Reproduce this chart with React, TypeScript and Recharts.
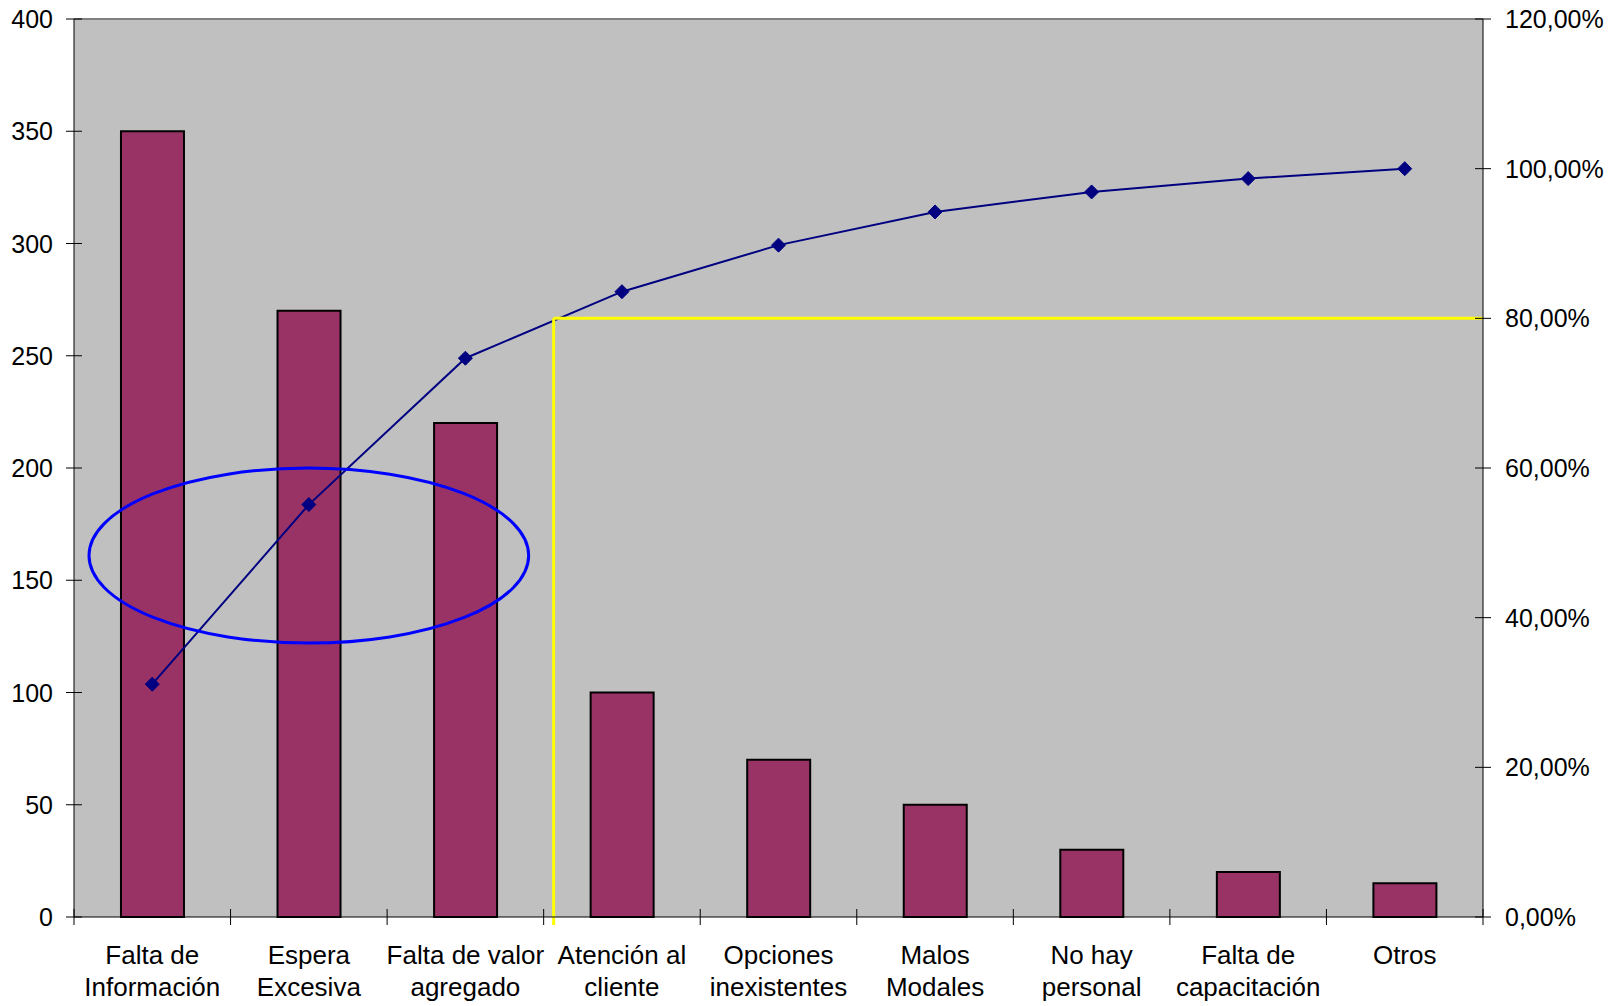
import {
  ComposedChart,
  Bar,
  Line,
  XAxis,
  YAxis,
  CartesianGrid,
  ReferenceLine,
} from "recharts";

const categories = [
  "Falta de\nInformación",
  "Espera\nExcesiva",
  "Falta de valor\nagregado",
  "Atención al\ncliente",
  "Opciones\ninexistentes",
  "Malos\nModales",
  "No hay\npersonal",
  "Falta de\ncapacitación",
  "Otros",
];
const frequencies = [350, 270, 220, 100, 70, 50, 30, 20, 15];
const cumulativePct = [31.11, 55.11, 74.67, 83.56, 89.78, 94.22, 96.89, 98.67, 100];
const leftTicks = [0, 50, 100, 150, 200, 250, 300, 350, 400];
const rightTicks = [0, 20, 40, 60, 80, 100, 120];

const data = categories.map((name, i) => ({
  name,
  freq: frequencies[i],
  cum: cumulativePct[i],
}));

const W = 1618;
const H = 1006;
const PLOT = { left: 74, top: 19, right: 1483, bottom: 917 };
const BAND = (PLOT.right - PLOT.left) / categories.length;
const FONT = '"Liberation Sans", Arial, sans-serif';

const XTick = (props: any) => {
  const { x, payload } = props;
  const lines = String(payload.value).split("\n");
  const half = BAND / 2;
  const isLast = payload.value === categories[categories.length - 1];
  return (
    <g>
      <line x1={x - half} x2={x - half} y1={PLOT.bottom - 8} y2={PLOT.bottom + 8} stroke="#000" />
      {isLast && (
        <line x1={x + half} x2={x + half} y1={PLOT.bottom - 8} y2={PLOT.bottom + 8} stroke="#000" />
      )}
      <text x={x} y={PLOT.bottom + 47} textAnchor="middle" fontSize={26} fontFamily={FONT} fill="#000">
        {lines.map((l, i) => (
          <tspan key={i} x={x} dy={i === 0 ? 0 : 32}>
            {l}
          </tspan>
        ))}
      </text>
    </g>
  );
};

const LeftTick = (props: any) => {
  const { y, payload } = props;
  return (
    <g>
      <line x1={PLOT.left - 8} x2={PLOT.left + 8} y1={y} y2={y} stroke="#000" />
      <text x={PLOT.left - 21} y={y} dy="0.36em" textAnchor="end" fontSize={25} fontFamily={FONT} fill="#000">
        {payload.value}
      </text>
    </g>
  );
};

const RightTick = (props: any) => {
  const { y, payload } = props;
  const label = `${Number(payload.value).toFixed(2).replace(".", ",")}%`;
  return (
    <g>
      <line x1={PLOT.right - 8} x2={PLOT.right + 8} y1={y} y2={y} stroke="#000" />
      <text x={PLOT.right + 22} y={y} dy="0.36em" textAnchor="start" fontSize={25} fontFamily={FONT} fill="#000">
        {label}
      </text>
    </g>
  );
};

const Diamond = (p: any) => {
  const { cx, cy } = p;
  const s = 7;
  return (
    <path
      d={`M${cx},${cy - s}L${cx + s},${cy}L${cx},${cy + s}L${cx - s},${cy}Z`}
      fill="#000080"
      stroke="#000080"
    />
  );
};

// yellow 80% cut-off lines sit a few px right of the category boundary
const YELLOW_SHIFT = 10;

const App = () => {
  return (
    <div
      style={{
        position: "absolute",
        left: 0,
        top: 0,
        width: W,
        height: H,
        background: "#fff",
        fontFamily: FONT,
      }}
    >
      <ComposedChart
        width={W}
        height={H}
        data={data}
        margin={{ top: PLOT.top, right: 35, bottom: 29, left: 14 }}
        barCategoryGap="30%"
      >
        <CartesianGrid
          fill="#C0C0C0"
          vertical={false}
          horizontalPoints={[PLOT.top]}
          stroke="#808080"
          strokeWidth={2}
        />
        <XAxis
          dataKey="name"
          height={60}
          interval={0}
          tickLine={false}
          axisLine={{ stroke: "#000" }}
          tick={<XTick />}
        />
        <YAxis
          yAxisId="left"
          width={60}
          domain={[0, 400]}
          ticks={leftTicks}
          interval={0}
          tickLine={false}
          axisLine={{ stroke: "#000" }}
          tick={<LeftTick />}
        />
        <YAxis
          yAxisId="right"
          orientation="right"
          width={100}
          domain={[0, 120]}
          ticks={rightTicks}
          interval={0}
          tickLine={false}
          axisLine={{ stroke: "#000" }}
          tick={<RightTick />}
        />
        <Bar
          yAxisId="left"
          dataKey="freq"
          fill="#993366"
          stroke="#000"
          strokeWidth={2}
          isAnimationActive={false}
        />
        <Line
          yAxisId="right"
          dataKey="cum"
          type="linear"
          stroke="#000080"
          strokeWidth={2}
          dot={<Diamond />}
          activeDot={false}
          isAnimationActive={false}
        />
        <ReferenceLine
          yAxisId="right"
          position="end"
          ifOverflow="visible"
          segment={[
            { x: categories[2], y: 80 },
            { x: categories[8], y: 80 },
          ]}
          shape={(p: any) => (
            <line x1={p.x1 + YELLOW_SHIFT} y1={p.y1} x2={p.x2} y2={p.y2} stroke="#FFFF00" strokeWidth={3} />
          )}
        />
        <ReferenceLine
          yAxisId="right"
          position="end"
          ifOverflow="visible"
          segment={[
            { x: categories[2], y: 80 },
            { x: categories[2], y: 0 },
          ]}
          shape={(p: any) => (
            <line
              x1={p.x1 + YELLOW_SHIFT}
              y1={p.y1}
              x2={p.x2 + YELLOW_SHIFT}
              y2={p.y2 + 8}
              stroke="#FFFF00"
              strokeWidth={3}
            />
          )}
        />
        {/* highlight ellipse around the first three causes, spans 122..200 on the left axis */}
        <ReferenceLine
          yAxisId="left"
          position="middle"
          ifOverflow="visible"
          segment={[
            { x: categories[1], y: 200 },
            { x: categories[1], y: 122 },
          ]}
          shape={(p: any) => (
            <ellipse
              cx={p.x1}
              cy={(p.y1 + p.y2) / 2}
              rx={BAND * 1.5 - 15}
              ry={Math.abs(p.y2 - p.y1) / 2}
              fill="none"
              stroke="#0000FF"
              strokeWidth={3}
            />
          )}
        />
      </ComposedChart>
    </div>
  );
};

export default App;
